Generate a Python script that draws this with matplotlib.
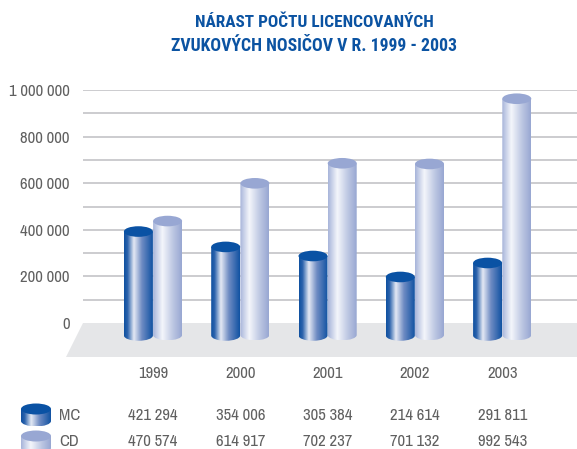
import numpy as np
import matplotlib
matplotlib.use("Agg")
import matplotlib.pyplot as plt
from matplotlib.colors import LinearSegmentedColormap
from matplotlib.patches import Ellipse, Polygon, PathPatch
from matplotlib.path import Path
from matplotlib.transforms import blended_transform_factory
from matplotlib import font_manager as fm

years = ["1999", "2000", "2001", "2002", "2003"]
# Cylinder heights (the drawing differs slightly from its printed table)
mc_values = [414000, 348000, 309000, 219000, 279000]
cd_values = [459000, 621000, 707000, 704000, 984000]
# Printed table
mc_labels = ["421 294", "354 006", "305 384", "214 614", "291 811"]
cd_labels = ["470 574", "614 917", "702 237", "701 132", "992 543"]
y_ticks = [0, 200000, 400000, 600000, 800000, 1000000]
y_tick_labels = ["0", "200 000", "400 000", "600 000", "800 000", "1 000 000"]
title_lines = ["NÁRAST POČTU LICENCOVANÝCH", "ZVUKOVÝCH NOSIČOV V R. 1999 - 2003"]

names = {f.name for f in fm.fontManager.ttflist}
def pick(cands):
    for c in cands:
        if c in names:
            return c
    return "Liberation Sans"
body_font = pick(["Archivo Narrow", "Roboto Condensed", "PT Sans Narrow", "Pragati Narrow"])
title_font = pick(["Roboto Condensed", "Archivo Narrow", "PT Sans Narrow"])
plt.rcParams["font.family"] = [body_font, "DejaVu Sans"]

W, H = 577, 449
TEXT = "#606060"
BLUE = "#0b53a2"
mc_cmap = LinearSegmentedColormap.from_list("mc", [(0, "#0f50a0"), (0.12, "#2a62ac"), (0.34, "#e4e9f4"),
                                                  (0.62, "#6f8cc3"), (1, "#1152a2")])
cd_cmap = LinearSegmentedColormap.from_list("cd", [(0, "#a7b4da"), (0.32, "#f4f6fb"), (0.7, "#bcc6e2"), (1, "#98a7d2")])
MC_TOP, CD_TOP = "#0a52a4", "#98a7d3"

fig = plt.figure(figsize=(W / 100, H / 100), dpi=100)
bg = fig.add_axes([0, 0, 1, 1], zorder=0)
bg.set_xlim(0, W); bg.set_ylim(H, 0); bg.axis("off")

PX_TOP, PX_ZERO, PX_LEFT = 90, 323, 83
ax = fig.add_axes([PX_LEFT / W, (H - PX_ZERO) / H, (W - PX_LEFT) / W, (PX_ZERO - PX_TOP) / H], zorder=1)
ax.patch.set_alpha(0)
STEP = 87.3
X0 = 153
xlim = ((PX_LEFT - X0) / STEP, (W - X0) / STEP)
per_px = 1e6 / (PX_ZERO - PX_TOP)


def cylinder(a, cx, w, ytop, ybot, ry, cmap, topc, z, sign=1):
    """Vertical cylinder; sign=1 for y up, -1 for inverted y."""
    k = 0.5523
    x0, x1 = cx - w / 2, cx + w / 2
    rb = -sign * ry
    verts = [(x0, ytop), (x1, ytop), (x1, ybot),
             (x1, ybot + k * rb), (cx + k * w / 2, ybot + rb), (cx, ybot + rb),
             (cx - k * w / 2, ybot + rb), (x0, ybot + k * rb), (x0, ybot), (x0, ytop)]
    codes = [Path.MOVETO, Path.LINETO, Path.LINETO, Path.CURVE4, Path.CURVE4, Path.CURVE4,
             Path.CURVE4, Path.CURVE4, Path.CURVE4, Path.CLOSEPOLY]
    patch = PathPatch(Path(verts, codes), fc="none", ec="none", transform=a.transData, zorder=z)
    a.add_patch(patch)
    patch.set_clip_on(False)
    im = a.imshow(np.linspace(0, 1, 128).reshape(1, -1), cmap=cmap, aspect="auto",
                  extent=(x0, x1, ybot + rb, ytop), zorder=z, interpolation="bilinear")
    im.set_clip_path(patch)
    im.set_clip_box(fig.bbox)
    e = Ellipse((cx, ytop), w, 2 * ry, fc=topc, ec="none", zorder=z + 0.1)
    a.add_patch(e)
    e.set_clip_on(False)


# floor
bg.add_patch(Polygon([(83, 323), (W, 323), (W, 357), (66, 357)], closed=True, fc="#e5e6e8", ec="none"))

# chart
W_BAR = 29 / STEP
OFF = 14.6 / STEP
DEPTH = 5 * per_px
BASE = -12.5 * per_px
RY = 5.3 * per_px
for i, (m, c) in enumerate(zip(mc_values, cd_values)):
    cylinder(ax, i + OFF, W_BAR, c - DEPTH, BASE + 0.5 * per_px, RY, cd_cmap, CD_TOP, 3)
    cylinder(ax, i - OFF, W_BAR, m - DEPTH, BASE, RY, mc_cmap, MC_TOP, 4)

ax.set_xlim(*xlim)
ax.set_ylim(0, 1e6)
for s in ax.spines.values():
    s.set_visible(False)
ax.set_yticks(y_ticks, y_tick_labels)
ax.set_yticks(np.arange(100000, 1000000, 200000), minor=True)
ax.yaxis.grid(True, which="both", color="#bfbfc2", lw=1.1)
ax.set_axisbelow(True)
ax.tick_params(axis="y", which="both", length=0, pad=9.5, labelsize=12, labelcolor=TEXT)
ax.set_xticks(range(len(years)), years)
ax.tick_params(axis="x", length=0, pad=31, labelsize=12, labelcolor=TEXT)
ax.yaxis.get_gridlines()[0].set_visible(False)

# table
tr = blended_transform_factory(ax.transData, bg.transData)
for row_y, labels in ((415, mc_labels), (442, cd_labels)):
    for i, t in enumerate(labels):
        ax.text(i, row_y, t, transform=tr, ha="center", va="center", fontsize=12, color=TEXT, clip_on=False)
bg.text(59, 415, "MC", ha="left", va="center", fontsize=12, color=TEXT)
bg.text(59, 442, "CD", ha="left", va="center", fontsize=12, color=TEXT)

# legend icons
saved = (bg.get_xlim(), bg.get_ylim())
cylinder(bg, 36, 30, 409, 421, 5.5, mc_cmap, MC_TOP, 3, sign=-1)
cylinder(bg, 36, 30, 436, 448, 5.5, cd_cmap, CD_TOP, 3, sign=-1)
bg.set_xlim(saved[0]); bg.set_ylim(saved[1])

# title
bg.text(314.5, 22, title_lines[0], ha="center", va="center", fontsize=12.4, fontweight="bold", color=BLUE, family=[title_font, "DejaVu Sans"])
bg.text(314, 46, title_lines[1], ha="center", va="center", fontsize=12.8, fontweight="bold", color=BLUE, family=[title_font, "DejaVu Sans"])

fig.savefig("out.png", dpi=100)
